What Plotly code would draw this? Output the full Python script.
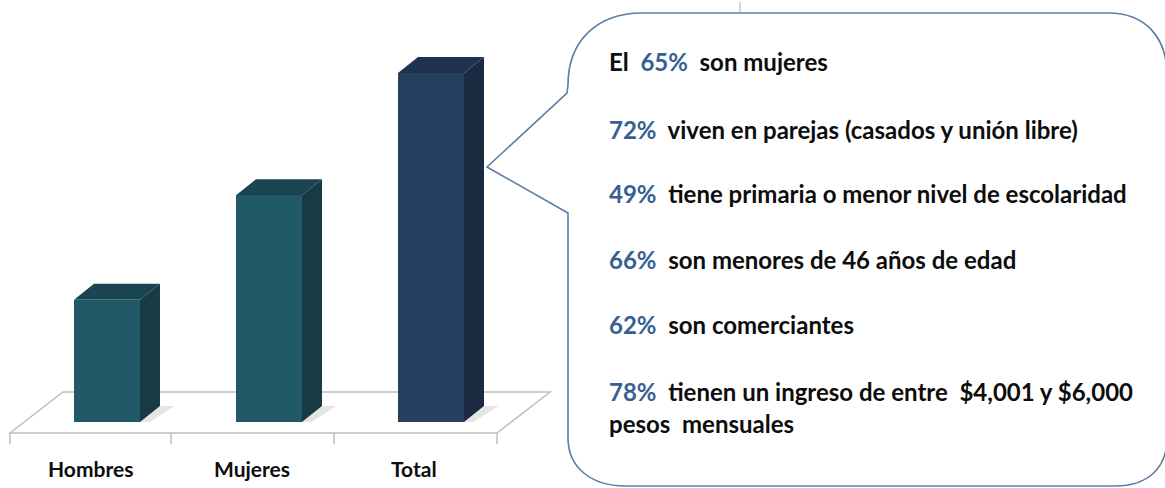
import plotly.graph_objects as go

# ---- data ----
categories = ["Hombres", "Mujeres", "Total"]
values = [35, 65, 100]
front_colors = ["#215968", "#215968", "#253F5F"]
side_colors = ["#163B45", "#163B45", "#1A2B42"]
top_colors = ["#1B4651", "#1B4651", "#1F3350"]

pct = ["65%", "72%", "49%", "66%", "62%", "78%", ""]
facts = [
    "son mujeres",
    "viven en parejas (casados y unión libre)",
    "tiene primaria o menor nivel de escolaridad",
    "son menores de 46 años de edad",
    "son comerciantes",
    "tienen un ingreso de entre&nbsp; $4,001 y $6,000",
    "pesos&nbsp; mensuales",
]
prefix = ["El&nbsp; ", "", "", "", "", "", ""]

# ---- canvas geometry (pixels) ----
W, H = 1165, 488
X0, STEP = 107, 162          # pixel centre of first bar, spacing between bars
BASE, PXU = 422, 3.49        # pixel row of value 0, pixels per unit
BAR_W = 66 / STEP
DX, DY = 20 / STEP, 16 / PXU  # 3-D depth offset in data units

x_range = [-X0 / STEP, (W - X0) / STEP]
y_range = [-(H - BASE) / PXU, BASE / PXU]


def px(x, y):
    """pixel -> paper coordinates"""
    return x / W, 1 - y / H


def path(points, close=True):
    s = ""
    for i, (x, y) in enumerate(points):
        u, v = px(x, y)
        s += ("M" if i == 0 else "L") + f"{u:.5f},{v:.5f} "
    return s + ("Z" if close else "")


fig = go.Figure()

# front faces
xs = list(range(len(categories)))
fig.add_trace(go.Bar(
    x=xs, y=values, width=BAR_W,
    marker=dict(color=front_colors, line=dict(width=0)),
    hoverinfo="skip",
))

# side and top faces of each bar
for i, v in enumerate(values):
    xl, xr = i - BAR_W / 2, i + BAR_W / 2
    # soft shadow on the floor
    fig.add_trace(go.Scatter(
        x=[xr, xr + DX, xr + DX + 0.09, xr + 0.06, xr],
        y=[0, DY, DY, 0, 0],
        fill="toself", fillcolor="rgba(0,0,0,0.10)",
        mode="lines", line=dict(width=0), hoverinfo="skip",
    ))
    fig.add_trace(go.Scatter(
        x=[xr, xr + DX, xr + DX, xr, xr],
        y=[0, DY, v + DY, v, 0],
        fill="toself", fillcolor=side_colors[i],
        mode="lines", line=dict(width=0), hoverinfo="skip",
    ))
    fig.add_trace(go.Scatter(
        x=[xl, xl + DX, xr + DX, xr, xl],
        y=[v, v + DY, v + DY, v, v],
        fill="toself", fillcolor=top_colors[i],
        mode="lines", line=dict(width=0), hoverinfo="skip",
    ))

shapes = []
floor_col = "#BFBFBF"
# floor plane
shapes.append(dict(type="path", xref="paper", yref="paper", layer="below",
                   path=path([(10, 433), (497, 433), (550, 392), (63, 392)]),
                   line=dict(color=floor_col, width=1.5), fillcolor="white"))
# category ticks along the front edge
for tx in [10, 171, 334, 497]:
    u0, v0 = px(tx, 433)
    u1, v1 = px(tx, 444)
    shapes.append(dict(type="line", xref="paper", yref="paper", layer="below",
                       x0=u0, y0=v0, x1=u1, y1=v1,
                       line=dict(color=floor_col, width=1.5)))

# speech bubble
def P(x, y):
    u, v = px(x, y)
    return f"{u:.5f},{v:.5f}"

bubble = (
    f"M{P(487,167)} L{P(567,93)} L{P(568,85)} "
    f"C{P(568,40)} {P(598,13)} {P(642,13)} "
    f"L{P(1108,13)} C{P(1146,13)} {P(1167,38)} {P(1167,75)} "
    f"L{P(1167,438)} C{P(1167,468)} {P(1148,486)} {P(1115,486)} "
    f"L{P(625,486)} C{P(592,486)} {P(568,468)} {P(568,438)} "
    f"L{P(568,213)} Z"
)
shapes.append(dict(type="path", xref="paper", yref="paper", path=bubble,
                   line=dict(color="#5B7DA6", width=1.6), fillcolor="white"))
# small tick above the bubble
u0, v0 = px(740, 2)
u1, v1 = px(740, 13)
shapes.append(dict(type="line", xref="paper", yref="paper", x0=u0, y0=v0,
                   x1=u1, y1=v1, line=dict(color="#A6A6A6", width=1)))

annotations = []
FONT = "Lato, 'Open Sans', sans-serif"
# category labels
for i, c in enumerate(categories):
    annotations.append(dict(
        x=i, y=px(0, 468)[1], xref="x", yref="paper", xshift=-17,
        text=f"<b>{c}</b>", showarrow=False, xanchor="center", yanchor="middle",
        font=dict(family=FONT, size=21, color="#0D0D0D"),
    ))

# bubble text
line_y = [62, 129, 194, 259, 324, 391, 423]
for p, pre, f, ly in zip(pct, prefix, facts, line_y):
    t = pre
    if p:
        t += f"<span style='color:#376092'>{p}</span>&nbsp; "
    t += f
    annotations.append(dict(
        x=px(607, 0)[0], y=px(0, ly)[1], xref="paper", yref="paper",
        text=f"<b>{t}</b>", showarrow=False, xanchor="left", yanchor="middle",
        font=dict(family=FONT, size=24, color="#0D0D0D"),
    ))

fig.update_layout(
    width=W, height=H,
    margin=dict(l=0, r=0, t=0, b=0),
    paper_bgcolor="white", plot_bgcolor="white",
    showlegend=False, bargap=0,
    xaxis=dict(range=x_range, visible=False, fixedrange=True),
    yaxis=dict(range=y_range, visible=False, fixedrange=True),
    shapes=shapes, annotations=annotations,
)

fig.write_html("out.html")
